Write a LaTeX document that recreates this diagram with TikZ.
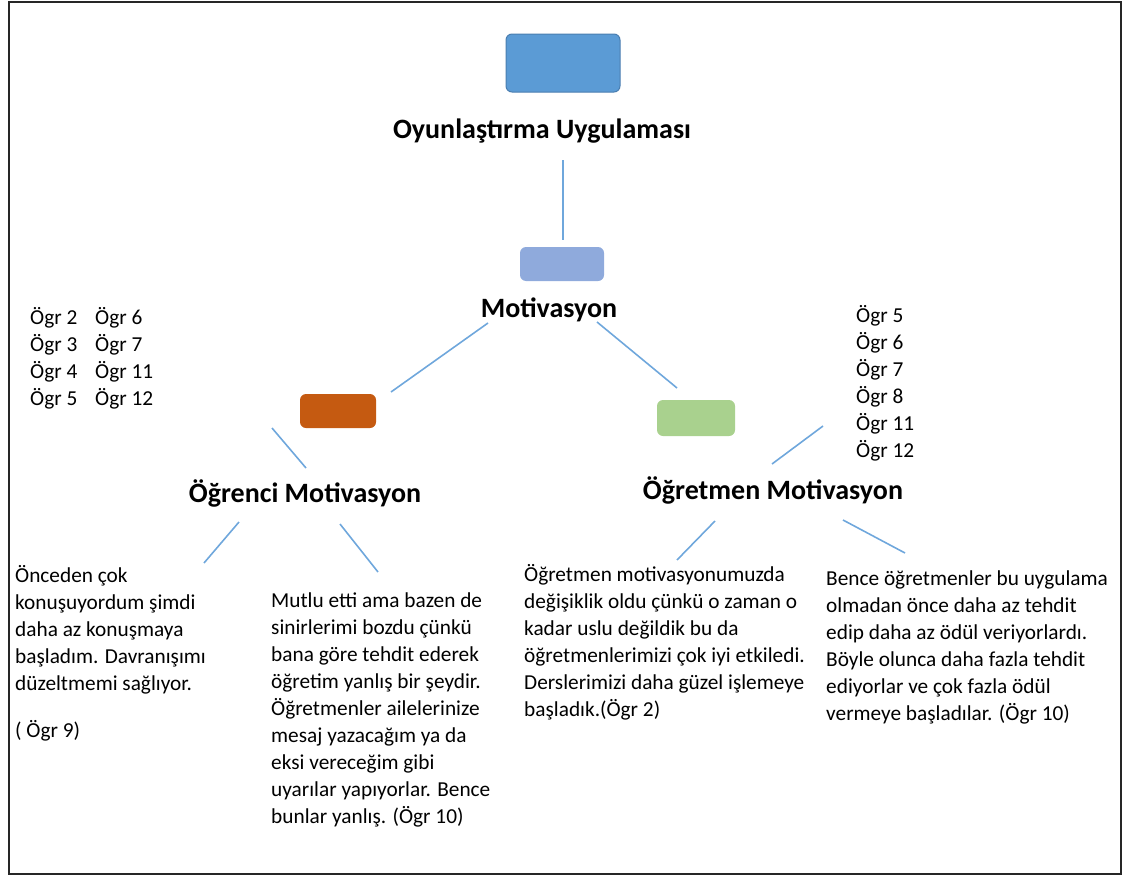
\documentclass[tikz,border=0pt]{standalone}
\usepackage{fontspec}
\setmainfont{Carlito}
\begin{document}
\begin{tikzpicture}[x=1pt,y=-1pt,
  box/.style={rounded corners=6pt, inner sep=0pt, minimum width=#1},
  title/.style={font=\fontsize{28}{34}\selectfont\bfseries, inner sep=0pt},
  body/.style={font=\fontsize{21.3}{27}\selectfont, inner sep=0pt, align=left, anchor=base west},
  link/.style={draw=linkblue, line width=1.6pt}]
\definecolor{linkblue}{HTML}{6FA7DC}
\definecolor{topblue}{HTML}{5B9BD5}
\definecolor{topedge}{HTML}{4A7EB0}
\definecolor{lavender}{HTML}{8FAADC}
\definecolor{rust}{HTML}{C55A11}
\definecolor{leaf}{HTML}{A9D18E}
\useasboundingbox (0,0) rectangle (1127,878);
\draw[line width=2pt, draw=black!85] (9,2) rectangle (1121,874);

% tree nodes
\node[box=114pt, minimum height=58pt, fill=topblue, draw=topedge, line width=1pt] (root) at (563,63) {};
\node[title] (rootlbl) at (542,131) {Oyunlaştırma Uygulaması};
\node[box=84pt, minimum height=34pt, fill=lavender] (mot) at (562,264) {};
\node[title] (motlbl) at (549,310) {Motivasyon};
\node[box=76pt, minimum height=34pt, fill=rust] (stu) at (338,411) {};
\node[title] (stulbl) at (305,493) {Öğrenci Motivasyon};
\node[box=78pt, minimum height=36pt, fill=leaf] (tea) at (696,418) {};
\node[title] (tealbl) at (773,490) {Öğretmen Motivasyon};

% student lists (anchored at the baseline of the last line)
\node[body] (lista) at (30,405) {Ögr 2\\Ögr 3\\Ögr 4\\Ögr 5};
\node[body] (listb) at (95,405) {Ögr 6\\Ögr 7\\Ögr 11\\Ögr 12};
\node[body] (listc) at (856,457) {Ögr 5\\Ögr 6\\Ögr 7\\Ögr 8\\Ögr 11\\Ögr 12};

% quotations (anchored at the baseline of the last line)
\node[body] (q1) at (15,737) {Önceden çok\\konuşuyordum şimdi\\daha az konuşmaya\\başladım. Davranışımı\\düzeltmemi sağlıyor.\\[20pt]( Ögr 9)};
\node[body] (q2) at (271,823) {Mutlu etti ama bazen de\\sinirlerimi bozdu çünkü\\bana göre tehdit ederek\\öğretim yanlış bir şeydir.\\Öğretmenler ailelerinize\\mesaj yazacağım ya da\\eksi vereceğim gibi\\uyarılar yapıyorlar. Bence\\bunlar yanlış. (Ögr 10)};
\node[body] (q3) at (524,716) {Öğretmen motivasyonumuzda\\değişiklik oldu çünkü o zaman o\\kadar uslu değildik bu da\\öğretmenlerimizi çok iyi etkiledi.\\Derslerimizi daha güzel işlemeye\\başladık.(Ögr 2)};
\node[body] (q4) at (826,720) {Bence öğretmenler bu uygulama\\olmadan önce daha az tehdit\\edip daha az ödül veriyorlardı.\\Böyle olunca daha fazla tehdit\\ediyorlar ve çok fazla ödül\\vermeye başladılar. (Ögr 10)};

% connector end points
\coordinate (c1a) at (563,160); \coordinate (c1b) at (563,240);
\coordinate (c2a) at (488,323); \coordinate (c2b) at (391,392);
\coordinate (c3a) at (272,428); \coordinate (c3b) at (306,468);
\coordinate (c4a) at (597,322); \coordinate (c4b) at (677,388);
\coordinate (c5a) at (823,426); \coordinate (c5b) at (772,464);
\coordinate (c6a) at (239,522); \coordinate (c6b) at (204,563);
\coordinate (c7a) at (340,524); \coordinate (c7b) at (378,572);
\coordinate (c8a) at (715,521); \coordinate (c8b) at (677,560);
\coordinate (c9a) at (843,520); \coordinate (c9b) at (905,553);

\draw[link] (c1a) -- (c1b);
\draw[link] (c2a) -- (c2b);
\draw[link] (c3a) -- (c3b);
\draw[link] (c4a) -- (c4b);
\draw[link] (c5a) -- (c5b);
\draw[link] (c6a) -- (c6b);
\draw[link] (c7a) -- (c7b);
\draw[link] (c8a) -- (c8b);
\draw[link] (c9a) -- (c9b);
\end{tikzpicture}
\end{document}
